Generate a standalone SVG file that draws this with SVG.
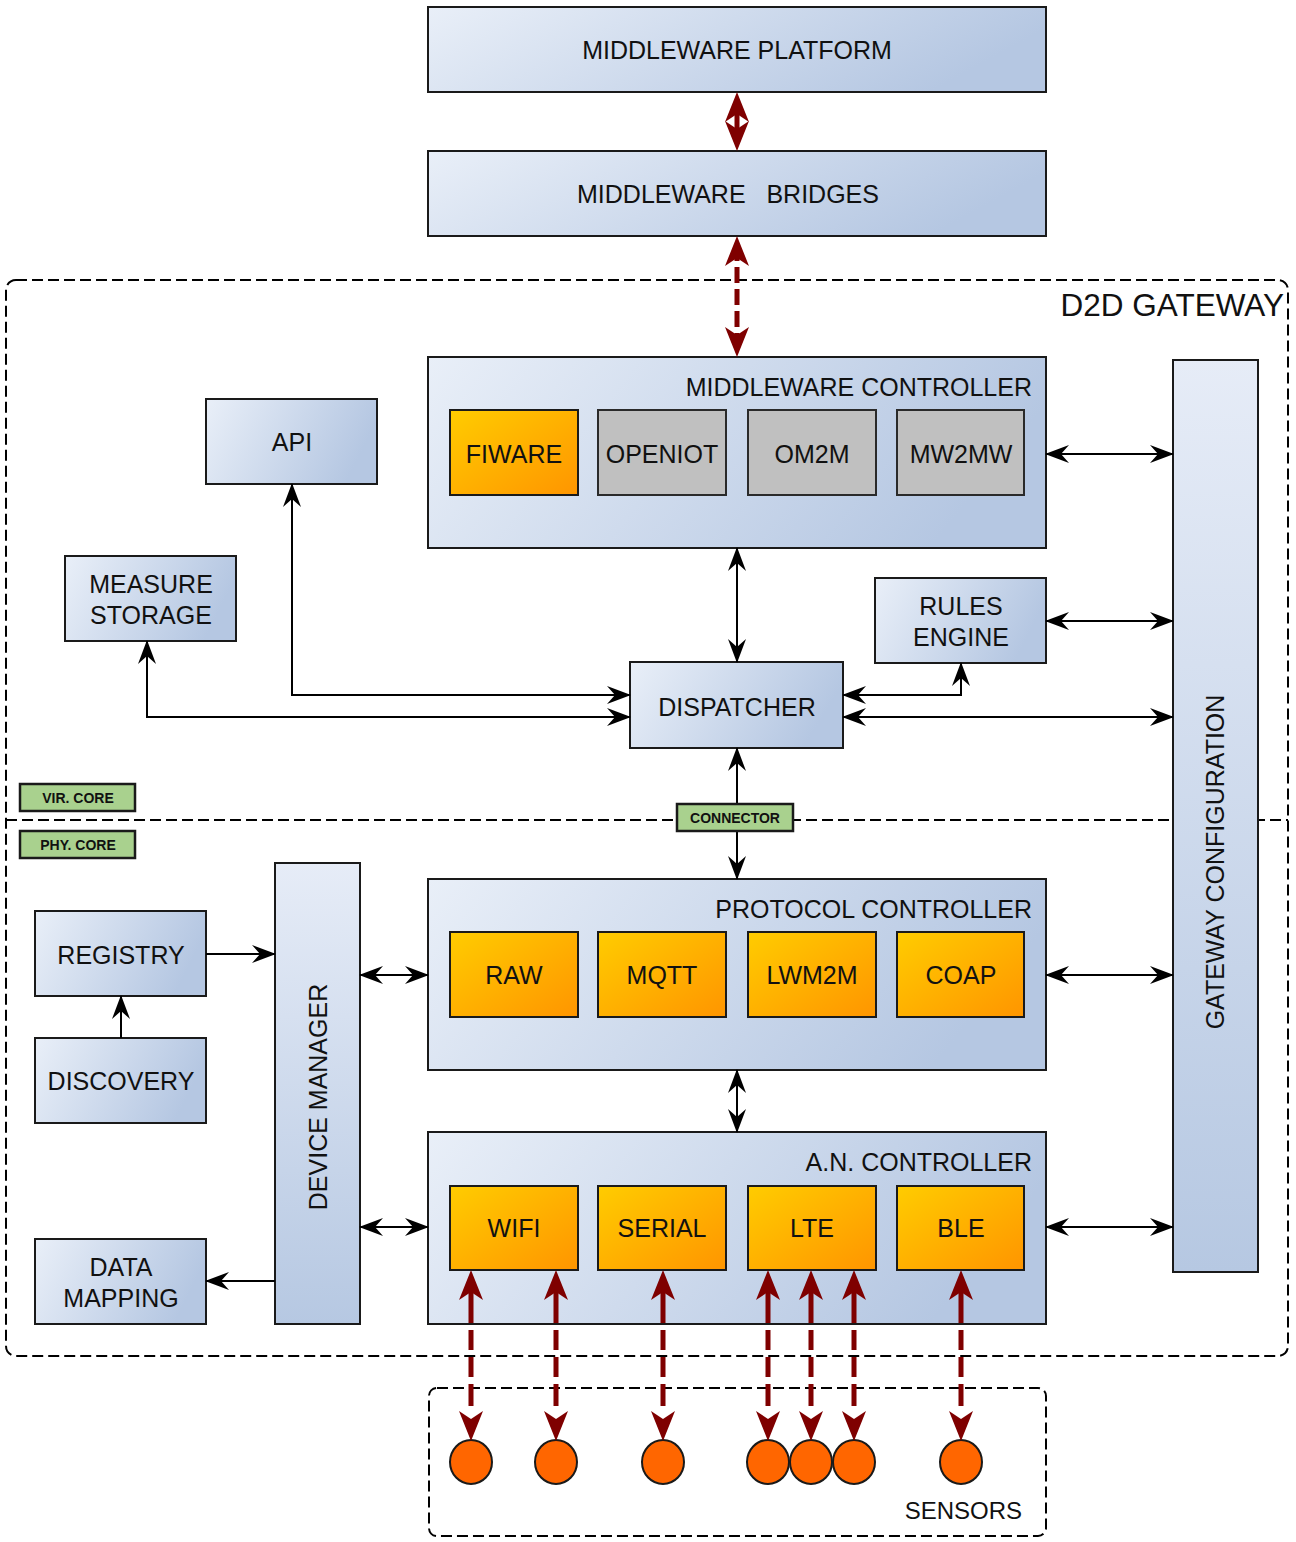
<svg xmlns="http://www.w3.org/2000/svg" width="1296" height="1542" viewBox="0 0 1296 1542">
<defs>
<linearGradient id="gb" x1="0" y1="0" x2="1" y2="0.25">
<stop offset="0" stop-color="#e9eff8"/><stop offset="1" stop-color="#b5c7e2"/>
</linearGradient>
<linearGradient id="gv" x1="0" y1="0" x2="0" y2="1">
<stop offset="0" stop-color="#e6ecf7"/><stop offset="1" stop-color="#b6c8e2"/>
</linearGradient>
<linearGradient id="go" x1="0" y1="0" x2="1" y2="1">
<stop offset="0" stop-color="#ffcc00"/><stop offset="1" stop-color="#ff9500"/>
</linearGradient>
<marker id="ah" viewBox="0 0 24 18" markerWidth="24" markerHeight="18" refX="23" refY="9" orient="auto-start-reverse" markerUnits="userSpaceOnUse">
<path d="M0,0 L24,9 L0,18 L8,9 Z" fill="#000"/>
</marker>
<marker id="rh" viewBox="0 0 30 24" markerWidth="30" markerHeight="24" refX="21" refY="12" orient="auto-start-reverse" markerUnits="userSpaceOnUse">
<path d="M0,0 L30,12 L0,24 L8,12 Z" fill="#7f0000"/>
</marker>
</defs>
<style>
.box{fill:url(#gb);stroke:#1a1a1a;stroke-width:2}
.boxv{fill:url(#gv);stroke:#1a1a1a;stroke-width:2}
.or{fill:url(#go);stroke:#1a1a1a;stroke-width:2}
.gr{fill:#c0c0c0;stroke:#2a2a2a;stroke-width:2}
.lab{fill:#a9d18e;stroke:#1a1a1a;stroke-width:2.5}
.bound{fill:none;stroke:#000;stroke-width:2;stroke-dasharray:11 5}
.t{font-family:"Liberation Sans",Arial,sans-serif;font-size:25px;fill:#111;text-anchor:middle}
.te{text-anchor:end}
.ts{font-size:14px;font-weight:bold}
.c{fill:none;stroke:#000;stroke-width:2;marker-start:url(#ah);marker-end:url(#ah)}
.c1{fill:none;stroke:#000;stroke-width:2;marker-end:url(#ah)}
.r{fill:none;stroke:#7f0000;stroke-width:5;marker-start:url(#rh);marker-end:url(#rh)}
.rd{stroke-dasharray:44 7 20 7 20 7 22 40}
.sen{fill:#ff6600;stroke:#1a1a1a;stroke-width:2}
</style>
<rect width="1296" height="1542" fill="#fff"/>

<g id="d2d-gateway">
<rect class="bound" x="6" y="280" width="1282" height="1076" rx="10"/>
<text class="t te" x="1284" y="316" style="font-size:31.5px">D2D GATEWAY</text>
</g>
<g id="core-divider">
<line x1="6" y1="820" x2="1288" y2="820" stroke="#000" stroke-width="2" stroke-dasharray="11 5"/>
</g>

<g id="middleware-platform">
<rect class="box" x="428" y="7" width="618" height="85"/>
<text class="t" x="737" y="59">MIDDLEWARE PLATFORM</text>
</g>
<g id="middleware-bridges">
<rect class="box" x="428" y="151" width="618" height="85"/>
<text class="t" x="728" y="203" style="white-space:pre">MIDDLEWARE   BRIDGES</text>
</g>

<g id="middleware-controller">
<rect class="box" x="428" y="357" width="618" height="191"/>
<text class="t te" x="1032" y="396">MIDDLEWARE CONTROLLER</text>
<g id="fiware"><rect class="or" x="450" y="410" width="128" height="85"/><text class="t" x="514" y="463">FIWARE</text></g>
<g id="openiot"><rect class="gr" x="598" y="410" width="128" height="85"/><text class="t" x="662" y="463">OPENIOT</text></g>
<g id="om2m"><rect class="gr" x="748" y="410" width="128" height="85"/><text class="t" x="812" y="463">OM2M</text></g>
<g id="mw2mw"><rect class="gr" x="897" y="410" width="127" height="85"/><text class="t" x="961" y="463">MW2MW</text></g>
</g>

<g id="api">
<rect class="box" x="206" y="399" width="171" height="85"/>
<text class="t" x="292" y="451">API</text>
</g>
<g id="measure-storage">
<rect class="box" x="65" y="556" width="171" height="85"/>
<text class="t" x="151" y="593">MEASURE</text>
<text class="t" x="151" y="624">STORAGE</text>
</g>
<g id="rules-engine">
<rect class="box" x="875" y="578" width="171" height="85"/>
<text class="t" x="961" y="615">RULES</text>
<text class="t" x="961" y="646">ENGINE</text>
</g>
<g id="dispatcher">
<rect class="box" x="630" y="662" width="213" height="86"/>
<text class="t" x="737" y="716">DISPATCHER</text>
</g>
<g id="gateway-configuration">
<rect class="boxv" x="1173" y="360" width="85" height="912"/>
<text class="t" transform="translate(1224,862) rotate(-90)">GATEWAY CONFIGURATION</text>
</g>

<g id="vir-core">
<rect class="lab" x="20" y="784" width="115" height="27"/>
<text class="t ts" x="78" y="803">VIR. CORE</text>
</g>
<g id="phy-core">
<rect class="lab" x="20" y="831" width="115" height="27"/>
<text class="t ts" x="78" y="850">PHY. CORE</text>
</g>

<g id="device-manager">
<rect class="boxv" x="275" y="863" width="85" height="461"/>
<text class="t" transform="translate(327,1097) rotate(-90)">DEVICE MANAGER</text>
</g>
<g id="registry">
<rect class="box" x="35" y="911" width="171" height="85"/>
<text class="t" x="121" y="964">REGISTRY</text>
</g>
<g id="discovery">
<rect class="box" x="35" y="1038" width="171" height="85"/>
<text class="t" x="121" y="1090">DISCOVERY</text>
</g>
<g id="data-mapping">
<rect class="box" x="35" y="1239" width="171" height="85"/>
<text class="t" x="121" y="1276">DATA</text>
<text class="t" x="121" y="1307">MAPPING</text>
</g>

<g id="protocol-controller">
<rect class="box" x="428" y="879" width="618" height="191"/>
<text class="t te" x="1032" y="918">PROTOCOL CONTROLLER</text>
<g id="raw"><rect class="or" x="450" y="932" width="128" height="85"/><text class="t" x="514" y="984">RAW</text></g>
<g id="mqtt"><rect class="or" x="598" y="932" width="128" height="85"/><text class="t" x="662" y="984">MQTT</text></g>
<g id="lwm2m"><rect class="or" x="748" y="932" width="128" height="85"/><text class="t" x="812" y="984">LWM2M</text></g>
<g id="coap"><rect class="or" x="897" y="932" width="127" height="85"/><text class="t" x="961" y="984">COAP</text></g>
</g>

<g id="an-controller">
<rect class="box" x="428" y="1132" width="618" height="192"/>
<text class="t te" x="1032" y="1171">A.N. CONTROLLER</text>
<g id="wifi"><rect class="or" x="450" y="1186" width="128" height="84"/><text class="t" x="514" y="1237">WIFI</text></g>
<g id="serial"><rect class="or" x="598" y="1186" width="128" height="84"/><text class="t" x="662" y="1237">SERIAL</text></g>
<g id="lte"><rect class="or" x="748" y="1186" width="128" height="84"/><text class="t" x="812" y="1237">LTE</text></g>
<g id="ble"><rect class="or" x="897" y="1186" width="127" height="84"/><text class="t" x="961" y="1237">BLE</text></g>
</g>

<g id="sensors">
<rect class="bound" x="429" y="1388" width="617" height="148" rx="8"/>
<ellipse class="sen" cx="471" cy="1462" rx="21" ry="22"/>
<ellipse class="sen" cx="556" cy="1462" rx="21" ry="22"/>
<ellipse class="sen" cx="663" cy="1462" rx="21" ry="22"/>
<ellipse class="sen" cx="768" cy="1462" rx="21" ry="22"/>
<ellipse class="sen" cx="811" cy="1462" rx="21" ry="22"/>
<ellipse class="sen" cx="854" cy="1462" rx="21" ry="22"/>
<ellipse class="sen" cx="961" cy="1462" rx="21" ry="22"/>
<text class="t te" x="1022" y="1519" style="font-size:24px">SENSORS</text>
</g>

<g id="connectors">
<path class="r" d="M737,101 V142"/>
<path class="r" d="M737,245 V348" stroke-dasharray="16 6"/>
<path class="c" d="M1046,454 H1173"/>
<path class="c" d="M737,548 V662"/>
<path class="c" d="M1046,621 H1173"/>
<path class="c" d="M843,695 H961 V663"/>
<path class="c" d="M843,717 H1173"/>
<path class="c" d="M292,484 V695 H630"/>
<path class="c" d="M147,641 V717 H630"/>
<path class="c" d="M737,748 V879"/>
<path class="c" d="M737,1070 V1132"/>
<path class="c" d="M360,975 H428"/>
<path class="c" d="M360,1227 H428"/>
<path class="c" d="M1046,975 H1173"/>
<path class="c" d="M1046,1227 H1173"/>
<path class="c1" d="M206,954 H275"/>
<path class="c1" d="M121,1038 V996"/>
<path class="c1" d="M275,1281 H206"/>
<path class="r rd" d="M471,1279 V1432"/>
<path class="r rd" d="M556,1279 V1432"/>
<path class="r rd" d="M663,1279 V1432"/>
<path class="r rd" d="M768,1279 V1432"/>
<path class="r rd" d="M811,1279 V1432"/>
<path class="r rd" d="M854,1279 V1432"/>
<path class="r rd" d="M961,1279 V1432"/>
</g>

<g id="connector">
<rect class="lab" x="677" y="804" width="116" height="27"/>
<text class="t ts" x="735" y="823">CONNECTOR</text>
</g>
</svg>
